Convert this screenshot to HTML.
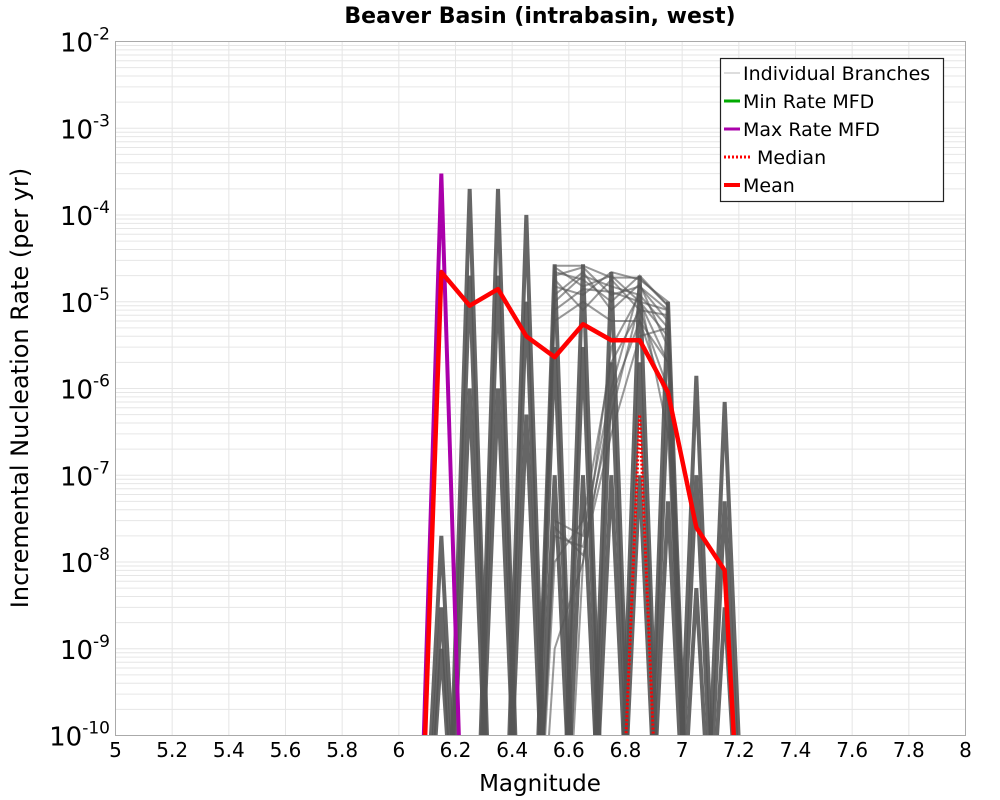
<!DOCTYPE html>
<html><head><meta charset="utf-8"><style>
html,body{margin:0;padding:0;background:#fff;overflow:hidden;font-family:"DejaVu Sans","Liberation Sans",sans-serif}
svg{display:block}
svg text{font-family:"DejaVu Sans","Liberation Sans",sans-serif}
</style></head><body>
<svg id="chart" width="1000" height="800" xmlns="http://www.w3.org/2000/svg">
<text x="540" y="23" text-anchor="middle" font-size="22" font-weight="bold">Beaver Basin (intrabasin, west)</text>
<text x="540" y="791" text-anchor="middle" font-size="23">Magnitude</text>
<text transform="translate(28,388) rotate(-90)" text-anchor="middle" font-size="24">Incremental Nucleation Rate (per yr)</text>
<g id="grid"></g>
<g id="ticks"></g>
<defs><clipPath id="pc"><rect x="115.5" y="41.5" width="850" height="694"/></clipPath></defs>
<g id="series" clip-path="url(#pc)"></g>
<rect x="115.5" y="41.5" width="850" height="694" fill="none" stroke="#aaa" stroke-width="1"/>
<g>
<rect x="720.5" y="58.5" width="223" height="143" fill="#fff" stroke="#222" stroke-width="1.2"/>
<g><line x1="724" y1="73" x2="740" y2="73" stroke="#bbb" stroke-width="1"/><text x="743" y="80" font-size="19">Individual Branches</text></g>
<g><line x1="724" y1="101" x2="740" y2="101" stroke="#00aa00" stroke-width="3"/><text x="743" y="108" font-size="19">Min Rate MFD</text></g>
<g><line x1="724" y1="129" x2="740" y2="129" stroke="#aa00aa" stroke-width="3"/><text x="743" y="136" font-size="19">Max Rate MFD</text></g>
<g><line x1="724" y1="157" x2="752" y2="157" stroke="#ff0000" stroke-width="3" stroke-dasharray="2,2"/><text x="757" y="164" font-size="19">Median</text></g>
<g><line x1="724" y1="185" x2="740" y2="185" stroke="#ff0000" stroke-width="4"/><text x="743" y="192" font-size="19">Mean</text></g>
</g>
</svg>
<script>
const mags=[6.05,6.15,6.25,6.35,6.45,6.55,6.65,6.75,6.85,6.95,7.05,7.15,7.25];
const meanRates=[0,2.2e-5,9e-6,1.4e-5,4e-6,2.3e-6,5.5e-6,3.6e-6,3.6e-6,9e-7,2.5e-8,8e-9,0];
const medianRates=[0,0,0,0,0,0,0,0,5e-7,0,0,0,0];
const maxRates=[0,3e-4,0,0,0,0,0,0,0,0,0,0,0];
const minRates=[0,0,0,0,0,0,0,0,0,0,0,0,0];
const spikeBins=[6.15,6.25,6.35,6.45,6.55,6.65,6.75,6.85,6.95,7.05,7.15];
const spikePeaks=[2e-8,2e-4,2e-4,1e-4,2.7e-5,2.7e-5,2.2e-5,2e-5,1e-5,1.4e-6,7e-7];
const spikeMids=[3e-9,2e-5,2e-5,1e-5,3e-6,3e-6,2e-6,2e-6,1e-6,1e-7,5e-8];
const spikeLows=[1e-9,1e-6,1e-6,5e-7,1e-7,1e-7,1e-7,1e-7,5e-8,5e-9,3e-9];
const branches=[
[0,0,0,0,0,2.5e-5,1.5e-5,2e-5,1e-5,8e-6,0,0,0],[0,0,0,0,0,2e-5,2.5e-5,1.2e-5,1.5e-5,6e-6,0,0,0],
[0,0,0,0,0,1.5e-5,1.2e-5,2.2e-5,1.8e-5,1e-5,0,0,0],[0,0,0,0,0,1e-5,2e-5,1.5e-5,1.2e-5,5e-6,0,0,0],
[0,0,0,0,0,1.8e-5,8e-6,1.8e-5,8e-6,7e-6,0,0,0],[0,0,0,0,0,2.2e-5,1.8e-5,1e-5,2e-5,9e-6,0,0,0],
[0,0,0,0,0,8e-6,1.4e-5,1.3e-5,1e-5,4e-6,0,0,0],[0,0,0,0,0,1.2e-5,2.2e-5,8e-6,1.6e-5,3e-6,0,0,0],
[0,0,0,0,0,6e-6,1e-5,6e-6,6e-6,2e-6,0,0,0],[0,0,0,0,0,2.6e-5,2.6e-5,1.9e-5,1.9e-5,9e-6,0,0,0],
[0,0,0,0,0,3e-8,2e-8,1e-6,1.5e-5,8e-6,0,0,0],[0,0,0,0,0,2e-8,1.5e-8,5e-7,1e-5,2e-6,0,0,0],
[0,0,0,0,0,1e-8,3e-8,2e-6,8e-6,1e-6,0,0,0],[0,0,0,0,0,0,1e-8,3e-6,1.2e-5,3e-7,0,0,0],
[0,0,0,0,0,2.5e-8,1.2e-8,3e-7,4e-6,5e-6,0,0,0],[0,0,0,0,0,1e-9,1e-8,8e-7,6e-6,7e-7,0,0,0]
];
const xTicks=[5,5.2,5.4,5.6,5.8,6,6.2,6.4,6.6,6.8,7,7.2,7.4,7.6,7.8,8];
const yExps=[-2,-3,-4,-5,-6,-7,-8,-9,-10];
const L=115.5,R=965.5,T=41.5,B=735.5;
const X=m=>L+(m-5)/3*(R-L);
const Y=v=>{const lv=v>0?Math.log10(v):-14;return T+(-2-lv)/8*(B-T);};
const NS="http://www.w3.org/2000/svg";
function mk(tag,attrs,parent){const e=document.createElementNS(NS,tag);for(const k in attrs)e.setAttribute(k,attrs[k]);parent.appendChild(e);return e;}
const grid=document.getElementById('grid'),ticks=document.getElementById('ticks'),series=document.getElementById('series');
for(let e=-10;e<-2;e++){for(let k=1;k<10;k++){const y=Y(k*Math.pow(10,e));const l=mk('line',{x1:L,x2:R,y1:y,y2:y,stroke:'#e6e6e6','stroke-width':1},grid);

}}
xTicks.forEach(t=>{const x=X(t);const l=mk('line',{x1:x,x2:x,y1:T,y2:B,stroke:'#e6e6e6','stroke-width':1},grid);


const tx=mk('text',{x:x,y:757,'text-anchor':'middle','font-size':20},ticks);tx.textContent=String(t);

});
yExps.forEach(e=>{const y=Y(Math.pow(10,e));const tx=mk('text',{x:110,y:y+10,'text-anchor':'end','font-size':26},ticks);


tx.textContent='10';const s=mk('tspan',{dy:-12,'font-size':17},tx);s.textContent=String(e);});
function path(vals){return vals.map((v,i)=>(i?'L':'M')+X(mags[i]).toFixed(2)+' '+Y(v).toFixed(2)).join(' ');}
function spikePath(m,v){return 'M'+X(m-0.1).toFixed(2)+' '+Y(0).toFixed(2)+' L'+X(m).toFixed(2)+' '+Y(v).toFixed(2)+' L'+X(m+0.1).toFixed(2)+' '+Y(0).toFixed(2);}
spikeBins.forEach((m,i)=>{[spikePeaks[i],spikeMids[i],spikeLows[i]].forEach(v=>{
const p=mk('path',{d:spikePath(m,v),fill:'none',stroke:'#555','stroke-width':4,'stroke-opacity':0.9},series);

});});
branches.forEach(b=>{const p=mk('path',{d:path(b),fill:'none',stroke:'#555','stroke-width':2,'stroke-opacity':0.6},series);

});
const mn=mk('path',{d:path(minRates),fill:'none',stroke:'#00aa00','stroke-width':3},series);


const mx=mk('path',{d:path(maxRates),fill:'none',stroke:'#aa00aa','stroke-width':4},series);


const md=mk('path',{d:path(medianRates),fill:'none',stroke:'#ff0000','stroke-width':3,'stroke-dasharray':'2,2'},series);


const me=mk('path',{d:path(meanRates),fill:'none',stroke:'#ff0000','stroke-width':4.5,'stroke-linejoin':'round'},series);


</script>
</body></html>
